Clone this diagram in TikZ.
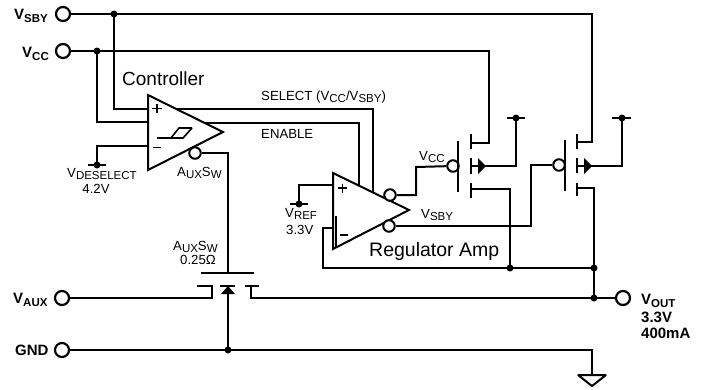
\documentclass[tikz,border=0pt]{standalone}
\usepackage{fontspec}
\setmainfont{Liberation Sans}
\newcommand{\fs}[1]{\fontsize{#1}{#1}\selectfont}
\newcommand{\subtxt}[1]{\raisebox{-2.5pt}{\fs{11.5}#1}}
\newcommand{\subbold}[1]{\raisebox{-3pt}{\fs{11.5}\bfseries #1}}
\tikzset{
 wire/.style={line width=2pt,line cap=butt,line join=miter},
 term/.style={circle,draw,line width=2.2pt,fill=white,minimum size=14pt,inner sep=0pt},
 bub/.style={circle,draw,line width=2pt,fill=white,minimum size=11.5pt,inner sep=0pt},
 dot/.style={circle,fill=black,minimum size=7pt,inner sep=0pt},
 lab/.style={inner sep=0pt,align=center,font=\fs{13.2}},
 blab/.style={inner sep=0pt,align=left,font=\fs{15}\bfseries},
 big/.style={inner sep=0pt,font=\fs{19}},
 amp/.style={line width=2pt,fill=white,line join=miter}
}
\begin{document}
\begin{tikzpicture}[x=1pt,y=-1pt]
\useasboundingbox[fill=white] (0,0) rectangle (702,389);
% terminals
\node[term] (tsby) at (63,14) {};
\node[term] (tcc) at (63,51) {};
\node[term] (taux) at (62,298) {};
\node[term] (tgnd) at (62,350) {};
\node[term] (tout) at (623,298) {};
% coordinates
\coordinate (jsby) at (114,14);
\coordinate (jcc) at (97,51);
\coordinate (cplus) at (148,109);
\coordinate (cmid) at (148,122);
\coordinate (cminus) at (148,146);
\coordinate (dref) at (97,165);
\coordinate (selend) at (373,192);
\coordinate (enend) at (359,185);
\coordinate (rplus) at (333,185);
\coordinate (rminus) at (333,228);
\coordinate (rref) at (299,204);
\coordinate (fb) at (323,268);
\coordinate (j1) at (510,268);
\coordinate (j2) at (594,268);
\coordinate (j3) at (594,298);
\coordinate (gate) at (228,273);
\coordinate (jg) at (228,350);
% wires behind the amplifiers
\draw[wire] (tsby) -- (592,14) |- (577,142);
\draw[wire] (tcc) -- (489,51) |- (471,143);
\draw[wire] (jsby) |- (cplus) -- (373,109) -- (selend);
\draw[wire] (jcc) |- (cmid);
\draw[wire] (148,123) -- (359,123) -- (enend);
\draw[wire] (cminus) -| (dref);
\draw[wire] (rplus) -| (rref);
\draw[wire] (338,228) -- (323,228) -- (fb) -- (j2);
% amps
\draw[amp] (148,95) -- (223,132) -- (148,170) -- cycle;
\draw[amp] (333,173) -- (409,210) -- (333,249) -- cycle;
\draw[line width=1.6pt,draw=black] (157,138) -- (171,138) -- (179,128) -- (192,128) (171,138) -- (183,138) -- (192,128);
\draw[line width=1.4pt] (152,108.5) -- (162,108.5) (157,104) -- (157,113);
\draw[line width=1.4pt] (153,147.5) -- (161,147.5);
\draw[line width=1.4pt] (338,188) -- (347,188) (342.5,183.5) -- (342.5,192.5);
\draw[line width=1.4pt] (340,235) -- (348,235);
\draw[line width=1.4pt] (336,216) -- (336,248);
% controller output to AUX switch
\node[bub] (bc) at (195,153) {};
\draw[wire] (bc) -- (228,153) -- (gate);
\draw[wire] (201,273) -- (254,273);
% AUX switch
\draw[wire] (taux) -- (212,298) -- (212,286) -- (197,286);
\draw[wire] (tout) -- (251,298) -- (251,286) -- (245,286) (251,286) -- (259,286);
\draw[wire] (220,286) -- (235,286);
\fill (228,286) -- (235,294) -- (221,294) -- cycle;
\draw[wire] (228,290) -- (jg);
\draw[wire] (tgnd) -- (592,350) -- (592,375);
\draw[line width=2pt,line join=bevel] (578,375) -- (606,375) -- (592,386) -- cycle;
% regulator outputs
\node[bub] (bu) at (390,195) {};
\node[bub] (bl) at (389,226) {};
\node[bub] (g1) at (453,166) {};
\node[bub] (g2) at (559,165) {};
\draw[wire] (bu) -- (416,195) -- (416,167) -- (g1);
\draw[wire] (bl) -- (531,226) -- (531,165) -- (g2);
% PMOS 1
\draw[wire] (458,141) -- (458,192);
\draw[wire] (471,134) -- (471,149) (471,158) -- (471,174) (471,183) -- (471,198);
\fill (478,158) -- (486,166) -- (478,174) -- cycle;
\draw[wire] (471,166) -- (516,166) -- (516,118);
\draw[wire] (507,118) -- (525,118);
\node[dot] (v1) at (516,118) {};
\draw[wire] (471,189) -- (510,189) -- (j1);
% PMOS 2
\draw[wire] (565,140) -- (565,191);
\draw[wire] (577,134) -- (577,149) (577,158) -- (577,173) (577,183) -- (577,196);
\fill (584,158) -- (592,166) -- (584,174) -- cycle;
\draw[wire] (577,166) -- (622,166) -- (622,118);
\draw[wire] (612,118) -- (631,118);
\node[dot] (v2) at (622,118) {};
\draw[wire] (577,188) -- (594,188) -- (j3);
% grounds/ref bars
\draw[wire] (88,165) -- (106,165);
\draw[wire] (290,204) -- (308,204);
% dots
\foreach \p in {jsby,jcc,dref,rref,j1,j2,j3,jg} \node[dot] at (\p) {};
% labels
\node[blab,anchor=base west] (lsby) at (14,19) {V\subbold{SBY}};
\node[blab,anchor=base west] (lcc) at (22,57) {V\subbold{CC}};
\node[blab,anchor=base west] (laux) at (13,303) {V\subbold{AUX}};
\node[blab,anchor=base west] (lgnd) at (15,355) {GND};
\node[big,anchor=base west] (lctl) at (122,85) {Controller};
\node[big,anchor=base west,font=\fs{19.5}] (lreg) at (369,256) {Regulator Amp};
\node[lab,anchor=base west] (lsel) at (261,100) {SELECT (V\subtxt{CC}/V\subtxt{SBY})};
\node[lab,anchor=base west] (len) at (261,138) {ENABLE};
\node[lab,anchor=base west] (l1) at (67,177) {V\subtxt{DESELECT}};
\node[lab,anchor=base] (l2) at (96,193) {4.2V};
\node[lab,anchor=base west] (l3) at (177,176) {A\subtxt{UX}S\subtxt{W}};
\node[lab,anchor=base west] (l4) at (173,250) {A\subtxt{UX}S\subtxt{W}};
\node[lab,anchor=base west] (l5) at (180,264) {0.25Ω};
\node[lab,anchor=base west] (l6) at (285,217) {V\subtxt{REF}};
\node[lab,anchor=base west] (l7) at (286,234) {3.3V};
\node[lab,anchor=base west] (l8) at (419,160) {V\subtxt{CC}};
\node[lab,anchor=base west] (l9) at (421,218) {V\subtxt{SBY}};
\node[blab,anchor=base west] (l10) at (641,304) {V\subbold{OUT}};
\node[blab,anchor=base west] (l11) at (641,322) {3.3V};
\node[blab,anchor=base west] (l12) at (641,338) {400mA};
\end{tikzpicture}
\end{document}
